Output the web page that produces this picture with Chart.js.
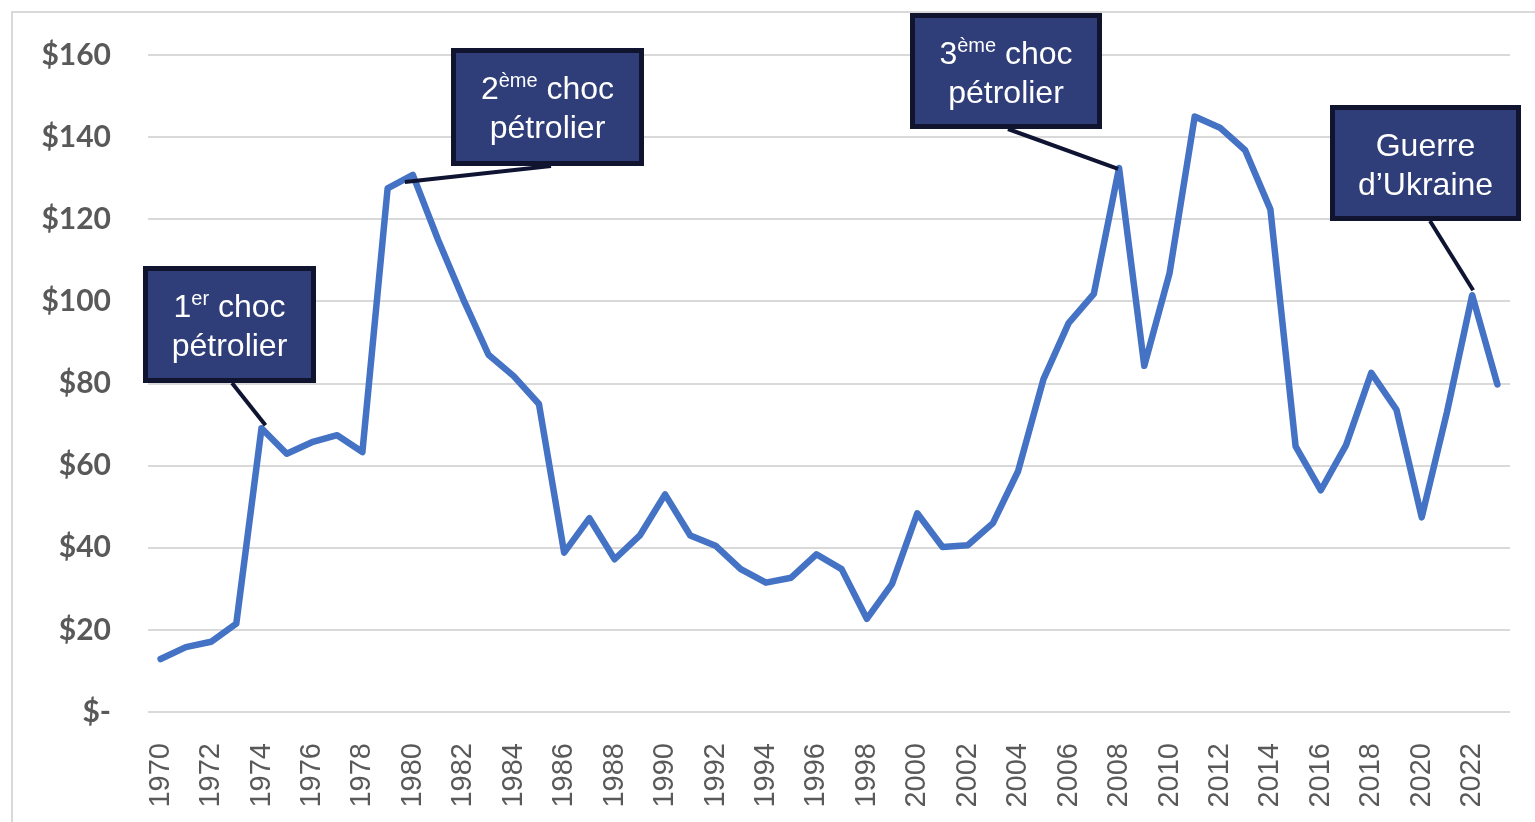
<!DOCTYPE html>
<html>
<head>
<meta charset="utf-8">
<script src="https://cdn.jsdelivr.net/npm/chart.js@4"></script>
<style>
  html, body { margin: 0; padding: 0; background: #fff; }
  #wrap { position: relative; width: 1535px; height: 822px; overflow: hidden; }
  #frame { position: absolute; left: 11px; top: 11px; width: 1540px; height: 840px; border: 2px solid #d9d9d9; box-sizing: border-box; }
  canvas { position: absolute; left: 0; top: 0; }
</style>
</head>
<body>
<div id="wrap">
  <div id="frame"></div>
  <canvas id="oil_chart" width="1535" height="822"></canvas>
</div>
<script>
// years on the x axis
const years = [
  "1970","1971","1972","1973","1974","1975","1976","1977","1978","1979",
  "1980","1981","1982","1983","1984","1985","1986","1987","1988","1989",
  "1990","1991","1992","1993","1994","1995","1996","1997","1998","1999",
  "2000","2001","2002","2003","2004","2005","2006","2007","2008","2009",
  "2010","2011","2012","2013","2014","2015","2016","2017","2018","2019",
  "2020","2021","2022","2023"
];

// oil price, dollars per barrel
const prices = [
  12.9, 15.8, 17.1, 21.5, 69.1, 62.9, 65.7, 67.4, 63.3, 127.5,
  130.8, 115.0, 100.5, 87.0, 81.8, 75.0, 38.8, 47.2, 37.2, 43.0,
  53.0, 43.0, 40.5, 34.8, 31.5, 32.7, 38.4, 34.8, 22.7, 31.2,
  48.4, 40.2, 40.6, 46.0, 58.7, 81.0, 94.7, 101.8, 132.5, 84.3,
  106.8, 145.0, 142.3, 136.8, 122.4, 64.7, 54.0, 65.0, 82.6, 73.6,
  47.4, 73.0, 101.5, 79.8
];

// y tick values
const yTicks = [0, 20, 40, 60, 80, 100, 120, 140, 160];

// callouts: text lines (parts with sup flag) and the year they point to
const callouts = [
  { year: "1974", lines: [[["1", false], ["er", true], [" choc", false]], [["pétrolier", false]]] },
  { year: "1980", lines: [[["2", false], ["ème", true], [" choc", false]], [["pétrolier", false]]] },
  { year: "2008", lines: [[["3", false], ["ème", true], [" choc", false]], [["pétrolier", false]]] },
  { year: "2022", lines: [[["Guerre", false]], [["d’Ukraine", false]]] }
];

// box placement (layout only)
const boxes = [
  { x: 143, y: 266, w: 173, h: 117, from: [232, 383], dx: 4, dy: -3 },
  { x: 451, y: 48, w: 193, h: 118, from: [551, 166], dx: -8, dy: 7 },
  { x: 910, y: 13, w: 192, h: 116, from: [1008, 129], dx: -1, dy: 1 },
  { x: 1330, y: 105, w: 191, h: 116, from: [1430, 221], dx: 1, dy: -5 }
];

function drawParts(ctx, parts, cx, baseline) {
  const big = "32px 'Liberation Sans', Arial, sans-serif";
  const small = "20px 'Liberation Sans', Arial, sans-serif";
  let total = 0;
  parts.forEach(p => { ctx.font = p[1] ? small : big; total += ctx.measureText(p[0]).width; });
  let x = cx - total / 2;
  parts.forEach(p => {
    ctx.font = p[1] ? small : big;
    ctx.fillText(p[0], x, p[1] ? baseline - 12 : baseline);
    x += ctx.measureText(p[0]).width;
  });
}

const calloutPlugin = {
  id: "callouts",
  afterDatasetsDraw(chart) {
    const ctx = chart.ctx;
    const xs = chart.scales.x, ys = chart.scales.y;
    ctx.save();
    callouts.forEach((c, i) => {
      const b = boxes[i];
      const idx = years.indexOf(c.year);
      const px = xs.getPixelForValue(idx) + b.dx;
      const py = ys.getPixelForValue(prices[idx]) + b.dy;
      ctx.strokeStyle = "#0f1432";
      ctx.lineWidth = 4;
      ctx.lineCap = "butt";
      ctx.beginPath();
      ctx.moveTo(b.from[0], b.from[1]);
      ctx.lineTo(px, py);
      ctx.stroke();

      ctx.fillStyle = "#10142f";
      ctx.fillRect(b.x, b.y, b.w, b.h);
      ctx.fillStyle = "#2f3d78";
      ctx.fillRect(b.x + 5, b.y + 5, b.w - 10, b.h - 10);

      ctx.fillStyle = "#ffffff";
      ctx.textBaseline = "alphabetic";
      ctx.textAlign = "left";
      drawParts(ctx, c.lines[0], b.x + b.w / 2, b.y + 51);
      drawParts(ctx, c.lines[1], b.x + b.w / 2, b.y + 90);
    });
    ctx.restore();
  }
};

new Chart("oil_chart", {
  type: "line",
  data: {
    labels: years,
    datasets: [{
      data: prices,
      borderColor: "#4472c4",
      borderWidth: 6.5,
      borderJoinStyle: "round",
      borderCapStyle: "round",
      pointRadius: 0,
      tension: 0,
      fill: false
    }]
  },
  options: {
    responsive: false,
    animation: false,
    layout: { padding: { left: 0, right: 25, top: 53, bottom: 0 } },
    plugins: {
      legend: { display: false },
      title: { display: false },
      tooltip: { enabled: false }
    },
    scales: {
      x: {
        type: "category",
        offset: true,
        grid: { display: false },
        border: { display: false },
        afterFit(scale) {
          scale.height = 110;
          scale.paddingLeft = 0;
          scale.paddingRight = 0;
        },
        ticks: {
          autoSkip: false,
          minRotation: 90,
          maxRotation: 90,
          padding: 23,
          color: "#595959",
          font: { family: "'Liberation Sans', Arial, sans-serif", size: 29 },
          callback(v, i) { return i % 2 === 0 ? years[i] : ""; }
        }
      },
      y: {
        min: 0,
        max: 160,
        afterFit(scale) { scale.width = 148; },
        afterBuildTicks(scale) { scale.ticks = yTicks.map(v => ({ value: v })); },
        grid: { color: "#d9d9d9", lineWidth: 2, drawTicks: false },
        border: { display: false },
        ticks: {
          padding: 37,
          color: "#595959",
          font: { family: "Lato, sans-serif", size: 30, weight: "bold" },
          callback(v) { return v === 0 ? "$-" : "$" + v; }
        }
      }
    }
  },
  plugins: [calloutPlugin]
});
</script>
</body>
</html>
